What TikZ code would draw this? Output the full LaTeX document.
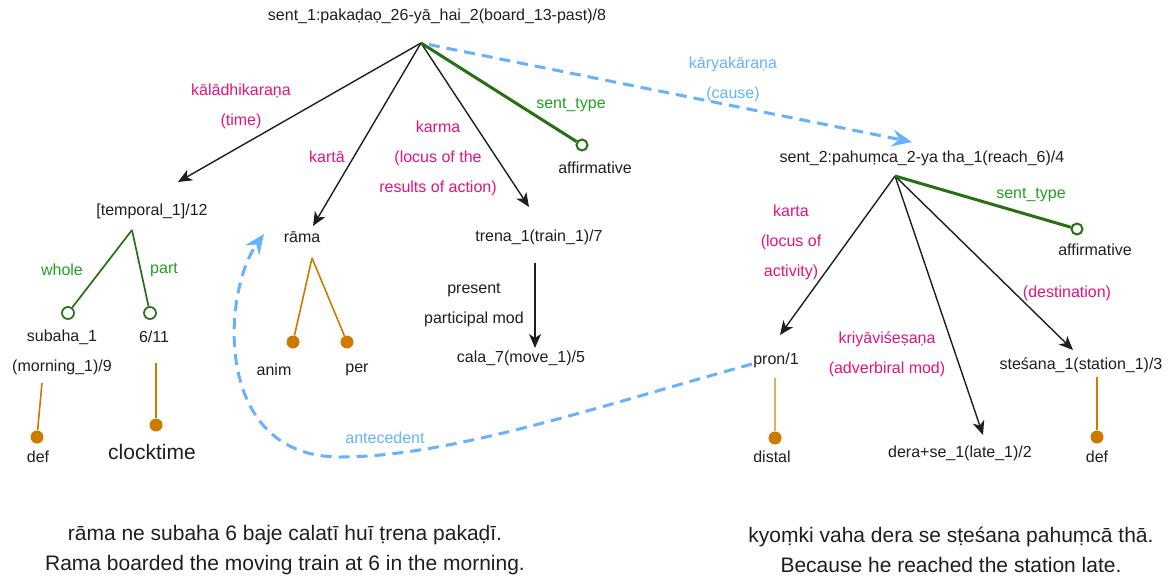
\documentclass[tikz,border=0pt]{standalone}
\usepackage{fontspec}
\setmainfont{Liberation Sans}
\usetikzlibrary{arrows.meta}
\definecolor{ink}{RGB}{30,30,30}
\definecolor{rose}{RGB}{226,20,125}
\definecolor{leaf}{RGB}{34,160,34}
\definecolor{forest}{RGB}{38,112,22}
\definecolor{amber}{RGB}{204,122,0}
\definecolor{paleamber}{RGB}{228,172,100}
\definecolor{sky}{RGB}{102,178,255}
\tikzset{
  lbl/.style={font=\fontsize{16}{30}\selectfont, text=ink, inner sep=0pt, align=center},
  rel/.style={lbl, text=rose},
  grel/.style={lbl, text=leaf},
  brel/.style={lbl, text=sky},
  big/.style={lbl, font=\fontsize{21}{30}\selectfont},
  arr/.style={draw=ink, line width=1.4pt, -{Stealth[length=14pt,width=12pt,inset=4pt]}},
  stype/.style={draw=forest, line width=3pt},
  wpline/.style={draw=forest, line width=1.7pt},
  ring/.style={circle, draw=forest, fill=white, line width=2pt, minimum size=11pt, inner sep=0pt},
  smallring/.style={ring, line width=1.7pt, minimum size=12pt},
  dot/.style={circle, fill=amber, minimum size=13pt, inner sep=0pt},
  feat/.style={draw=amber, line width=1.6pt},
  palefeat/.style={draw=paleamber, line width=1.6pt},
  link/.style={draw=sky, line width=3pt, dash pattern=on 11pt off 7pt,
    -{Stealth[length=20pt,width=17pt,inset=7pt]}},
}
\begin{document}
\begin{tikzpicture}[x=1pt, y=-1pt]
\useasboundingbox (0,0) rectangle (1168,579);

% ---------- first sentence ----------
\node[lbl] (sent1) at (437,16) {sent\_1:pakaḍaọ\_26-yā\_hai\_2(board\_13-past)/8};
\coordinate (s1) at (421,43);

\node[lbl] (temporal) at (152,211) {[temporal\_1]/12};
\coordinate (temporalTip) at (178,182);
\node[lbl] (rama) at (302,237) {rāma};
\coordinate (ramaTip) at (313,226);
\node[lbl] (trena) at (539,237) {trena\_1(train\_1)/7};
\coordinate (trenaTip) at (529,207);
\node[ring] (ring1) at (582,145) {};
\node[lbl] (aff1) at (595,168) {affirmative};

\draw[arr] (s1) -- (temporalTip);
\draw[arr] (s1) -- (ramaTip);
\draw[arr] (s1) -- (trenaTip);
\draw[stype] (s1) -- (ring1);

\node[rel] (kala) at (241,106) {kālādhikaraṇa\\(time)};
\node[rel] (karta1) at (327,157) {kartā};
\node[rel] (karma) at (438,158) {karma\\(locus of the\\results of action)};
\node[grel] (stype1) at (571,105) {sent\_type};

% temporal whole / part
\coordinate (tempApex) at (132,230);
\node[smallring] (wholeRing) at (68,313) {};
\node[smallring] (partRing) at (150,313) {};
\draw[wpline] (tempApex) -- (wholeRing);
\draw[wpline] (tempApex) -- (partRing);
\node[grel] (whole) at (62,270) {whole};
\node[grel] (part) at (164,270) {part};
\node[lbl] (subaha) at (62,352) {subaha\_1\\(morning\_1)/9};
\node[lbl] (six) at (154,337) {6/11};

\coordinate (subahaFoot) at (42,383);
\node[dot] (defDot1) at (37,437) {};
\draw[feat] (subahaFoot) -- (defDot1);
\node[lbl] (def1) at (38,457) {def};
\coordinate (sixFoot) at (156,363);
\node[dot] (clockDot) at (156,425) {};
\draw[feat] (sixFoot) -- (clockDot);
\node[big] (clock) at (152,452) {clocktime};

% features of rama
\coordinate (ramaApex) at (312,258);
\node[dot] (animDot) at (293,342) {};
\node[dot] (perDot) at (347,342) {};
\draw[feat] (ramaApex) -- (animDot);
\draw[feat] (ramaApex) -- (perDot);
\node[lbl] (anim) at (274,370) {anim};
\node[lbl] (per) at (357,370) {per};

% participle
\coordinate (trenaFoot) at (535,263);
\coordinate (calaTip) at (535,348);
\draw[arr] (trenaFoot) -- (calaTip);
\node[lbl] (ppm) at (474,305) {present\\participal mod};
\node[lbl] (cala) at (521,358) {cala\_7(move\_1)/5};

% ---------- second sentence ----------
\node[lbl] (sent2) at (922,158) {sent\_2:pahuṃca\_2-ya tha\_1(reach\_6)/4};
\coordinate (s2) at (895,176);

\node[lbl] (pron) at (776,360) {pron/1};
\coordinate (pronTip) at (780,335);
\node[lbl] (dera) at (960,453) {dera+se\_1(late\_1)/2};
\coordinate (deraTip) at (983,435);
\node[lbl] (stesana) at (1081,365) {steśana\_1(station\_1)/3};
\coordinate (stesanaTip) at (1073,350);
\node[ring] (ring2) at (1077,229) {};
\node[lbl] (aff2) at (1095,250) {affirmative};

\draw[arr] (s2) -- (pronTip);
\draw[arr] (s2) -- (deraTip);
\draw[arr] (s2) -- (stesanaTip);
\draw[stype] (s2) -- (ring2);

\node[rel] (karta2) at (791,242) {karta\\(locus of\\activity)};
\node[rel] (kriya) at (887,354) {kriyāviśeṣaṇa\\(adverbiral mod)};
\node[rel] (dest) at (1067,293) {(destination)};
\node[grel] (stype2) at (1031,195) {sent\_type};

\coordinate (pronFoot) at (775,378);
\node[dot] (distalDot) at (775,438) {};
\draw[palefeat] (pronFoot) -- (distalDot);
\node[lbl] (distal) at (772,457) {distal};
\coordinate (stesanaFoot) at (1097,377);
\node[dot] (defDot2) at (1097,437) {};
\draw[feat] (stesanaFoot) -- (defDot2);
\node[lbl] (def2) at (1097,457) {def};

% ---------- cross-sentence links ----------
\coordinate (causeTip) at (912,142);
\draw[link, shorten <=8pt] (s1) -- (causeTip);
\node[brel] (cause) at (733,79) {kāryakāraṇa\\(cause)};

\coordinate (antStart) at (752,364);
\coordinate (antTip) at (264,234);
\draw[link] (antStart) .. controls (600,406) and (450,457) .. (340,457)
  .. controls (212,457) and (222,292) .. (antTip);
\node[brel] (ante) at (385,438) {antecedent};

% ---------- sentences ----------
\node[big] (gloss1) at (285,550) {rāma ne subaha 6 baje calatī huī ṭrena pakaḍī.\\Rama boarded the moving train at 6 in the morning.};
\node[big] (gloss2) at (951,550) {kyoṃki vaha dera se sṭeśana pahuṃcā thā.\\Because he reached the station late.};
\end{tikzpicture}
\end{document}
